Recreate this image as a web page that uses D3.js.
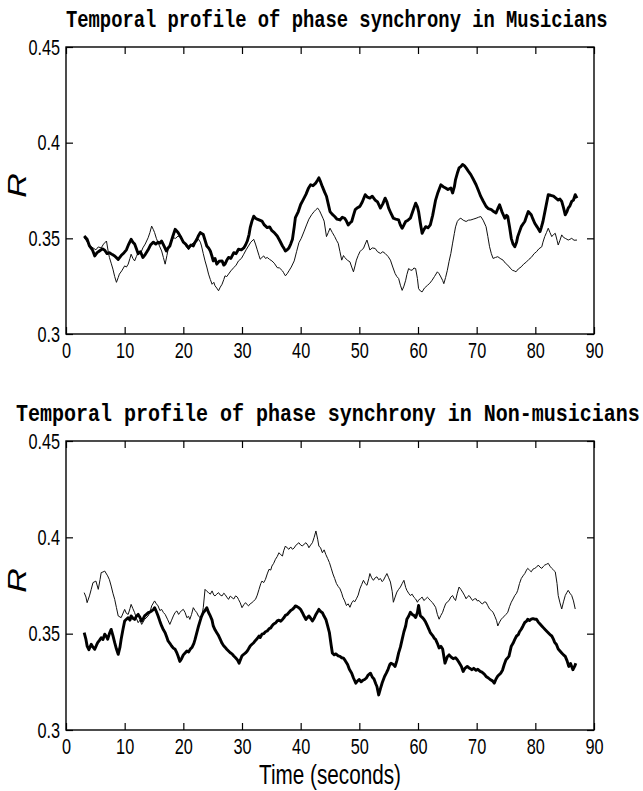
<!DOCTYPE html>
<html>
<head>
<meta charset="utf-8">
<script src="https://cdn.jsdelivr.net/npm/d3@7"></script>
<style>
  body { margin: 0; background: #fff; }
  svg { display: block; }
</style>
</head>
<body>
<svg id="chart"></svg>
<script>
// tick values / labels
const xTicks = [0, 10, 20, 30, 40, 50, 60, 70, 80, 90];
const yTicks = [0.3, 0.35, 0.4, 0.45];
const yTickLabels = ['0.3', '0.35', '0.4', '0.45'];
const titleMus = 'Temporal profile of phase synchrony in Musicians';
const titleNon = 'Temporal profile of phase synchrony in Non-musicians';
const xLabel = 'Time (seconds)';
const yLabel = 'R';

// Musicians, thick trace [time s, R]
const musThick = [[3.1,.3512],[3.6,.3495],[4.0,.3460],[4.5,.3440],[4.9,.3408],[5.3,.3425],[5.7,.3434],[6.2,.3445],[6.6,.3438],[7.0,.3420],[7.4,.3425],[7.9,.3415],[8.3,.3408],[8.9,.3390],[9.4,.3410],[9.9,.3425],[10.3,.3440],[10.7,.3470],[11.1,.3495],[11.4,.3480],[11.7,.3470],[12.0,.3445],[12.3,.3420],[12.7,.3430],[13.1,.3400],[13.5,.3415],[14.0,.3440],[14.4,.3465],[14.9,.3480],[15.3,.3470],[15.7,.3480],[16.0,.3475],[16.3,.3486],[16.7,.3460],[17.1,.3434],[17.4,.3450],[17.7,.3460],[18.2,.3510],[18.6,.3547],[19.1,.3530],[19.5,.3510],[20.0,.3480],[20.4,.3470],[20.9,.3450],[21.3,.3465],[21.7,.3460],[22.0,.3480],[22.3,.3495],[22.6,.3515],[22.9,.3530],[23.4,.3520],[23.7,.3490],[24.0,.3460],[24.3,.3450],[24.6,.3434],[24.9,.3405],[25.1,.3382],[25.4,.3395],[25.7,.3365],[26.1,.3380],[26.6,.3382],[26.9,.3360],[27.1,.3365],[27.4,.3385],[27.7,.3400],[28.1,.3395],[28.6,.3425],[29.0,.3420],[29.4,.3443],[29.9,.3440],[30.3,.3450],[30.6,.3465],[30.9,.3486],[31.2,.3520],[31.4,.3556],[31.7,.3590],[32.0,.3616],[32.3,.3605],[32.6,.3600],[33.0,.3595],[33.4,.3590],[33.8,.3570],[34.3,.3556],[34.7,.3560],[35.1,.3540],[35.5,.3530],[36.0,.3512],[36.4,.3490],[36.9,.3460],[37.2,.3445],[37.4,.3434],[37.7,.3440],[38.0,.3450],[38.3,.3470],[38.6,.3495],[38.9,.3560],[39.1,.3608],[39.6,.3640],[40.0,.3677],[40.4,.3700],[40.9,.3730],[41.3,.3760],[41.7,.3780],[42.1,.3775],[42.6,.3790],[42.9,.3805],[43.1,.3816],[43.4,.3795],[43.7,.3770],[44.1,.3740],[44.4,.3720],[44.7,.3680],[45.0,.3640],[45.4,.3625],[45.8,.3614],[46.2,.3600],[46.7,.3596],[47.1,.3610],[47.5,.3605],[47.8,.3590],[48.1,.3570],[48.4,.3580],[48.7,.3588],[49.0,.3620],[49.3,.3650],[49.7,.3660],[50.1,.3667],[50.5,.3690],[51.0,.3728],[51.4,.3715],[51.8,.3710],[52.2,.3720],[52.7,.3700],[53.1,.3690],[53.6,.3658],[54.0,.3680],[54.4,.3710],[54.7,.3690],[55.0,.3658],[55.4,.3630],[55.8,.3605],[56.2,.3600],[56.7,.3596],[57.0,.3570],[57.3,.3553],[57.6,.3570],[57.9,.3588],[58.3,.3595],[58.7,.3605],[59.1,.3640],[59.6,.3684],[59.9,.3665],[60.1,.3640],[60.4,.3580],[60.7,.3526],[61.0,.3545],[61.3,.3561],[61.7,.3555],[62.1,.3570],[62.5,.3620],[63.0,.3700],[63.4,.3740],[63.9,.3780],[64.3,.3770],[64.7,.3763],[65.1,.3755],[65.6,.3763],[65.9,.3737],[66.2,.3770],[66.4,.3807],[66.7,.3840],[67.0,.3868],[67.3,.3875],[67.6,.3886],[67.9,.3880],[68.2,.3868],[68.6,.3850],[69.0,.3833],[69.4,.3810],[69.9,.3780],[70.3,.3750],[70.7,.3719],[71.1,.3695],[71.6,.3667],[72.0,.3655],[72.5,.3650],[72.9,.3640],[73.3,.3632],[73.6,.3655],[73.9,.3675],[74.3,.3640],[74.8,.3605],[75.1,.3620],[75.3,.3614],[75.6,.3560],[75.9,.3500],[76.2,.3470],[76.5,.3456],[76.8,.3480],[77.0,.3509],[77.3,.3535],[77.6,.3561],[77.9,.3575],[78.2,.3588],[78.5,.3615],[78.8,.3640],[79.1,.3630],[79.3,.3623],[79.6,.3600],[79.9,.3579],[80.3,.3560],[80.8,.3535],[81.0,.3555],[81.3,.3588],[81.7,.3650],[82.2,.3728],[82.6,.3725],[83.1,.3720],[83.5,.3710],[83.9,.3700],[84.2,.3705],[84.5,.3693],[84.8,.3660],[85.1,.3623],[85.4,.3640],[85.6,.3658],[85.9,.3670],[86.2,.3693],[86.5,.3700],[86.8,.3728],[87.1,.3710]];

// Musicians, thin trace
const musThin = [[3.1,.3503],[3.4,.3490],[3.7,.3477],[4.1,.3460],[4.6,.3450],[5.1,.3440],[5.5,.3455],[6.0,.3450],[6.4,.3470],[6.9,.3486],[7.2,.3430],[7.4,.3400],[7.7,.3370],[8.0,.3339],[8.3,.3300],[8.6,.3270],[8.9,.3295],[9.1,.3313],[9.5,.3330],[10.0,.3356],[10.3,.3350],[10.6,.3365],[10.9,.3395],[11.1,.3417],[11.4,.3395],[11.7,.3382],[12.0,.3405],[12.3,.3425],[12.7,.3420],[13.1,.3450],[13.5,.3470],[14.0,.3503],[14.3,.3530],[14.6,.3564],[14.9,.3545],[15.1,.3530],[15.4,.3500],[15.7,.3477],[16.0,.3455],[16.3,.3434],[16.6,.3400],[16.9,.3365],[17.2,.3410],[17.4,.3440],[17.9,.3480],[18.3,.3503],[18.7,.3500],[19.1,.3512],[19.5,.3505],[20.0,.3486],[20.4,.3460],[20.9,.3440],[21.3,.3465],[21.7,.3477],[22.2,.3480],[22.6,.3495],[22.9,.3480],[23.1,.3460],[23.4,.3420],[23.7,.3382],[24.0,.3350],[24.3,.3313],[24.6,.3285],[24.9,.3260],[25.2,.3270],[25.4,.3252],[25.7,.3240],[26.0,.3226],[26.3,.3245],[26.6,.3260],[26.9,.3285],[27.1,.3304],[27.4,.3300],[27.7,.3313],[28.1,.3330],[28.6,.3347],[29.0,.3360],[29.4,.3382],[29.9,.3395],[30.3,.3417],[30.7,.3440],[31.1,.3460],[31.5,.3480],[32.0,.3495],[32.3,.3470],[32.6,.3440],[32.9,.3410],[33.1,.3391],[33.4,.3400],[33.7,.3408],[34.0,.3395],[34.3,.3400],[34.7,.3390],[35.1,.3382],[35.5,.3370],[36.0,.3347],[36.4,.3345],[36.9,.3330],[37.1,.3320],[37.4,.3304],[37.7,.3315],[38.0,.3330],[38.4,.3350],[38.9,.3382],[39.3,.3430],[39.7,.3477],[40.1,.3500],[40.6,.3538],[41.0,.3570],[41.4,.3600],[41.9,.3625],[42.3,.3640],[42.6,.3650],[42.9,.3658],[43.2,.3645],[43.4,.3632],[43.8,.3605],[44.0,.3590],[44.4,.3509],[44.7,.3530],[45.0,.3553],[45.4,.3530],[45.8,.3509],[46.1,.3490],[46.4,.3474],[46.7,.3430],[47.0,.3386],[47.3,.3410],[47.5,.3400],[48.0,.3385],[48.4,.3377],[48.7,.3350],[49.0,.3325],[49.3,.3360],[49.5,.3386],[49.8,.3410],[50.1,.3430],[50.4,.3440],[50.7,.3447],[51.0,.3470],[51.3,.3491],[51.6,.3460],[51.8,.3439],[52.2,.3450],[52.7,.3447],[53.1,.3430],[53.6,.3421],[54.0,.3430],[54.4,.3421],[54.9,.3405],[55.3,.3386],[55.7,.3350],[56.1,.3316],[56.4,.3300],[56.7,.3290],[57.0,.3255],[57.3,.3228],[57.6,.3250],[57.9,.3281],[58.1,.3310],[58.4,.3342],[58.7,.3335],[59.0,.3333],[59.3,.3345],[59.6,.3342],[59.9,.3290],[60.1,.3237],[60.4,.3225],[60.7,.3220],[61.1,.3240],[61.6,.3254],[62.0,.3265],[62.4,.3281],[62.8,.3300],[63.3,.3325],[63.6,.3315],[63.9,.3298],[64.2,.3280],[64.4,.3263],[64.7,.3295],[65.0,.3333],[65.3,.3380],[65.6,.3421],[65.9,.3475],[66.2,.3526],[66.4,.3560],[66.7,.3588],[67.0,.3600],[67.3,.3605],[67.7,.3595],[68.2,.3588],[68.6,.3595],[69.0,.3596],[69.4,.3600],[69.9,.3605],[70.3,.3610],[70.7,.3614],[71.1,.3595],[71.6,.3561],[71.9,.3510],[72.2,.3456],[72.5,.3420],[72.8,.3395],[73.2,.3400],[73.6,.3404],[74.0,.3395],[74.5,.3386],[74.9,.3370],[75.3,.3360],[75.7,.3345],[76.1,.3333],[76.4,.3330],[76.7,.3325],[77.1,.3340],[77.6,.3351],[78.0,.3365],[78.5,.3377],[78.9,.3390],[79.3,.3400],[79.8,.3420],[80.2,.3430],[80.6,.3445],[81.1,.3456],[81.3,.3480],[81.6,.3509],[81.9,.3530],[82.2,.3553],[82.5,.3530],[82.8,.3509],[83.1,.3520],[83.4,.3526],[83.7,.3490],[83.9,.3465],[84.2,.3490],[84.5,.3518],[84.8,.3505],[85.1,.3500],[85.4,.3495],[85.6,.3491],[85.9,.3495],[86.2,.3500],[86.6,.3490],[87.1,.3491]];

// Non-musicians, thick trace
const nonThick = [[3.1,.3505],[3.4,.3470],[3.6,.3436],[3.9,.3417],[4.3,.3445],[4.6,.3430],[4.9,.3419],[5.2,.3440],[5.4,.3453],[5.7,.3465],[6.0,.3479],[6.3,.3470],[6.6,.3497],[6.9,.3485],[7.1,.3471],[7.4,.3500],[7.7,.3522],[8.0,.3490],[8.3,.3453],[8.6,.3420],[8.9,.3393],[9.2,.3430],[9.4,.3471],[9.7,.3520],[10.0,.3566],[10.3,.3575],[10.6,.3583],[10.9,.3570],[11.1,.3592],[11.4,.3580],[11.7,.3574],[12.0,.3590],[12.3,.3600],[12.6,.3585],[12.9,.3566],[13.2,.3580],[13.4,.3592],[13.7,.3600],[14.0,.3609],[14.3,.3612],[14.6,.3618],[14.9,.3625],[15.1,.3635],[15.4,.3615],[15.7,.3592],[16.0,.3565],[16.3,.3540],[16.6,.3520],[16.9,.3505],[17.2,.3480],[17.4,.3462],[17.7,.3450],[18.0,.3436],[18.3,.3425],[18.6,.3419],[18.9,.3400],[19.1,.3384],[19.4,.3356],[19.7,.3370],[20.0,.3390],[20.3,.3400],[20.6,.3410],[20.9,.3405],[21.2,.3420],[21.5,.3430],[21.8,.3450],[22.0,.3470],[22.3,.3505],[22.6,.3540],[22.9,.3570],[23.1,.3590],[23.4,.3609],[23.7,.3620],[24.0,.3635],[24.3,.3610],[24.6,.3592],[24.9,.3570],[25.1,.3540],[25.4,.3520],[25.7,.3505],[26.0,.3490],[26.3,.3470],[26.6,.3450],[26.9,.3436],[27.1,.3430],[27.4,.3419],[27.7,.3410],[28.0,.3401],[28.3,.3395],[28.6,.3384],[28.9,.3375],[29.2,.3365],[29.5,.3347],[29.8,.3370],[30.0,.3385],[30.3,.3393],[30.6,.3400],[30.9,.3410],[31.1,.3420],[31.4,.3436],[31.7,.3445],[32.0,.3453],[32.3,.3465],[32.6,.3475],[32.9,.3488],[33.1,.3480],[33.4,.3497],[33.7,.3500],[34.0,.3510],[34.3,.3514],[34.6,.3525],[34.9,.3530],[35.1,.3540],[35.4,.3550],[35.7,.3555],[36.0,.3566],[36.3,.3570],[36.6,.3565],[36.9,.3574],[37.2,.3585],[37.4,.3595],[37.7,.3600],[38.0,.3610],[38.3,.3620],[38.6,.3626],[38.9,.3635],[39.1,.3644],[39.4,.3640],[39.7,.3635],[40.0,.3625],[40.3,.3609],[40.6,.3590],[40.9,.3574],[41.2,.3585],[41.4,.3592],[41.7,.3580],[42.0,.3566],[42.3,.3580],[42.6,.3600],[42.9,.3615],[43.1,.3626],[43.4,.3615],[43.7,.3609],[44.0,.3590],[44.3,.3574],[44.6,.3540],[44.9,.3505],[45.2,.3440],[45.4,.3400],[45.7,.3390],[46.0,.3395],[46.4,.3385],[46.7,.3382],[47.0,.3375],[47.3,.3373],[47.6,.3360],[48.0,.3340],[48.3,.3315],[48.7,.3295],[49.0,.3270],[49.4,.3243],[49.7,.3255],[50.0,.3262],[50.3,.3250],[50.6,.3258],[50.9,.3262],[51.2,.3270],[51.5,.3285],[51.9,.3295],[52.2,.3275],[52.5,.3265],[52.8,.3240],[53.0,.3226],[53.3,.3182],[53.6,.3215],[53.9,.3245],[54.3,.3278],[54.6,.3295],[54.9,.3315],[55.2,.3340],[55.4,.3347],[55.8,.3340],[56.1,.3330],[56.4,.3360],[56.7,.3400],[57.0,.3430],[57.3,.3470],[57.6,.3510],[57.9,.3540],[58.1,.3575],[58.4,.3590],[58.7,.3611],[59.0,.3600],[59.3,.3595],[59.6,.3584],[59.9,.3610],[60.1,.3646],[60.4,.3593],[60.7,.3585],[61.0,.3575],[61.3,.3560],[61.6,.3540],[61.9,.3520],[62.1,.3505],[62.5,.3490],[62.8,.3475],[63.0,.3470],[63.3,.3450],[63.6,.3426],[63.9,.3434],[64.2,.3420],[64.6,.3347],[65.0,.3380],[65.3,.3390],[65.6,.3380],[66.0,.3370],[66.4,.3375],[66.7,.3365],[67.0,.3350],[67.4,.3330],[67.7,.3304],[68.0,.3320],[68.4,.3330],[68.8,.3320],[69.2,.3313],[69.5,.3320],[69.9,.3310],[70.2,.3315],[70.6,.3304],[70.9,.3300],[71.3,.3290],[71.6,.3278],[72.0,.3270],[72.3,.3262],[72.7,.3255],[73.0,.3243],[73.3,.3265],[73.6,.3280],[74.1,.3295],[74.4,.3310],[74.7,.3340],[75.0,.3365],[75.5,.3382],[75.9,.3435],[76.2,.3450],[76.5,.3470],[76.8,.3488],[77.1,.3495],[77.3,.3510],[77.6,.3523],[77.9,.3540],[78.2,.3558],[78.5,.3565],[78.7,.3575],[79.0,.3568],[79.3,.3575],[79.6,.3578],[79.9,.3575],[80.2,.3575],[80.5,.3560],[80.8,.3550],[81.1,.3540],[81.4,.3530],[81.7,.3520],[81.9,.3514],[82.2,.3505],[82.5,.3495],[82.8,.3488],[83.1,.3470],[83.3,.3455],[83.6,.3444],[83.9,.3420],[84.2,.3410],[84.5,.3400],[84.8,.3390],[85.1,.3382],[85.4,.3360],[85.7,.3330],[86.0,.3345],[86.4,.3313],[86.7,.3330],[86.9,.3347]];

// Non-musicians, thin trace
const nonThin = [[3.1,.3713],[3.4,.3690],[3.6,.3661],[4.0,.3696],[4.3,.3730],[4.6,.3765],[5.1,.3773],[5.5,.3730],[5.8,.3780],[6.0,.3817],[6.3,.3820],[6.6,.3825],[7.1,.3800],[7.4,.3780],[7.7,.3747],[8.0,.3710],[8.3,.3678],[8.6,.3635],[8.9,.3592],[9.4,.3583],[10.0,.3626],[10.3,.3605],[10.6,.3600],[10.9,.3630],[11.1,.3652],[11.4,.3630],[11.7,.3609],[12.0,.3580],[12.3,.3557],[12.6,.3570],[12.9,.3548],[13.4,.3574],[14.0,.3592],[14.3,.3610],[14.6,.3644],[15.1,.3670],[15.4,.3655],[15.7,.3644],[16.0,.3620],[16.3,.3626],[16.6,.3610],[16.9,.3600],[17.3,.3575],[17.7,.3548],[18.0,.3570],[18.3,.3592],[18.6,.3610],[18.9,.3618],[19.2,.3600],[19.4,.3609],[19.7,.3620],[20.0,.3626],[20.3,.3610],[20.6,.3583],[20.9,.3590],[21.1,.3574],[21.4,.3600],[21.7,.3635],[22.0,.3620],[22.3,.3609],[22.6,.3590],[22.9,.3583],[23.2,.3600],[23.4,.3635],[23.7,.3730],[24.0,.3720],[24.3,.3713],[24.6,.3705],[24.9,.3722],[25.2,.3700],[25.4,.3696],[25.7,.3705],[26.0,.3713],[26.3,.3700],[26.6,.3696],[26.9,.3710],[27.1,.3704],[27.4,.3690],[27.7,.3678],[28.0,.3695],[28.3,.3687],[28.6,.3680],[28.9,.3696],[29.2,.3690],[29.4,.3678],[29.7,.3660],[30.0,.3635],[30.3,.3650],[30.6,.3661],[30.9,.3650],[31.1,.3644],[31.4,.3655],[31.7,.3661],[32.0,.3670],[32.3,.3678],[32.6,.3700],[32.9,.3730],[33.2,.3760],[33.4,.3773],[33.7,.3765],[34.0,.3782],[34.3,.3810],[34.6,.3834],[34.9,.3830],[35.1,.3851],[35.4,.3865],[35.7,.3886],[36.0,.3900],[36.3,.3920],[36.6,.3910],[36.9,.3903],[37.1,.3930],[37.4,.3955],[37.7,.3945],[38.0,.3938],[38.3,.3950],[38.6,.3938],[38.9,.3945],[39.1,.3955],[39.4,.3965],[39.7,.3972],[40.0,.3960],[40.3,.3955],[40.6,.3965],[40.9,.3972],[41.2,.3960],[41.4,.3946],[41.7,.3960],[42.0,.3972],[42.3,.4000],[42.6,.4033],[42.9,.3990],[43.1,.3955],[43.4,.3945],[43.7,.3920],[44.0,.3935],[44.3,.3910],[44.6,.3890],[44.9,.3869],[45.2,.3840],[45.5,.3810],[45.8,.3786],[46.1,.3760],[46.4,.3745],[46.7,.3733],[47.0,.3710],[47.2,.3689],[47.5,.3670],[47.8,.3646],[48.1,.3655],[48.4,.3637],[48.7,.3660],[49.0,.3672],[49.2,.3665],[49.5,.3681],[49.8,.3700],[50.1,.3733],[50.4,.3755],[50.7,.3777],[51.0,.3760],[51.3,.3751],[51.6,.3785],[51.8,.3812],[52.1,.3790],[52.4,.3777],[52.7,.3790],[53.0,.3795],[53.3,.3780],[53.6,.3786],[53.9,.3770],[54.1,.3777],[54.4,.3795],[54.7,.3812],[55.0,.3790],[55.3,.3768],[55.6,.3720],[55.8,.3663],[56.1,.3690],[56.4,.3716],[56.7,.3730],[57.0,.3742],[57.3,.3760],[57.6,.3777],[57.9,.3740],[58.1,.3725],[58.4,.3710],[58.7,.3698],[59.0,.3705],[59.3,.3689],[59.6,.3680],[59.9,.3663],[60.1,.3675],[60.4,.3681],[60.7,.3690],[61.0,.3672],[61.3,.3680],[61.6,.3689],[61.9,.3680],[62.1,.3672],[62.5,.3660],[63.0,.3637],[63.3,.3600],[63.6,.3575],[63.9,.3595],[64.2,.3611],[64.4,.3630],[64.7,.3654],[65.0,.3665],[65.3,.3672],[65.6,.3690],[65.9,.3698],[66.1,.3685],[66.4,.3672],[66.7,.3710],[67.0,.3742],[67.3,.3730],[67.6,.3716],[67.9,.3700],[68.2,.3681],[68.4,.3690],[68.7,.3698],[69.0,.3685],[69.3,.3672],[69.6,.3680],[69.9,.3681],[70.1,.3670],[70.4,.3672],[70.7,.3660],[71.0,.3654],[71.3,.3665],[71.6,.3663],[71.9,.3645],[72.2,.3628],[72.5,.3620],[72.8,.3611],[73.1,.3590],[73.4,.3567],[73.6,.3540],[73.9,.3560],[74.2,.3575],[74.5,.3585],[74.8,.3593],[75.0,.3600],[75.3,.3611],[75.6,.3640],[75.9,.3663],[76.2,.3680],[76.5,.3698],[76.8,.3710],[77.0,.3725],[77.3,.3760],[77.6,.3786],[77.9,.3800],[78.2,.3812],[78.5,.3830],[78.7,.3839],[79.0,.3830],[79.3,.3821],[79.6,.3835],[79.9,.3839],[80.2,.3845],[80.5,.3856],[80.8,.3845],[81.1,.3839],[81.4,.3850],[81.6,.3856],[81.9,.3860],[82.2,.3865],[82.5,.3850],[82.8,.3839],[83.1,.3830],[83.4,.3821],[83.7,.3760],[83.9,.3698],[84.2,.3660],[84.5,.3628],[84.8,.3665],[85.1,.3698],[85.4,.3715],[85.6,.3725],[85.9,.3710],[86.2,.3698],[86.5,.3670],[86.8,.3628]];

const W = 643, H = 791;
const svg = d3.select('#chart').attr('width', W).attr('height', H);
svg.append('rect').attr('width', W).attr('height', H).attr('fill', '#fff');

const sans = '"Liberation Sans", Arial, Helvetica, sans-serif';
const mono = '"Courier New", Courier, "Nimbus Mono PS", "Liberation Mono", monospace';
const squeeze = 0.74;   // the figure's Helvetica text is horizontally compressed
const tickLen = 7;
const titleSize = 24;

const panels = [
  { title: titleMus, thick: musThick, thin: musThin, top: 47, bottom: 334, titleY: 27, titleX0: 66, titleW: 542 },
  { title: titleNon, thick: nonThick, thin: nonThin, top: 441, bottom: 730, titleY: 421, titleX0: 16, titleW: 624 }
];

const x = d3.scaleLinear().domain([0, 90]).range([66, 594]);

panels.forEach((p, pi) => {
  const y = d3.scaleLinear().domain([0.3, 0.45]).range([p.bottom, p.top]);
  const g = svg.append('g');

  // title: monospace glyphs are 0.6em wide, squeeze to the measured width
  const natural = p.title.length * 0.6 * titleSize;
  g.append('text')
    .attr('transform', `translate(${p.titleX0},${p.titleY}) scale(${p.titleW / natural},1)`)
    .style('font-family', mono).style('font-weight', 'bold').style('font-size', titleSize + 'px')
    .text(p.title);

  // traces
  const line = d3.line().x(d => x(d[0])).y(d => y(d[1]));
  g.append('path').datum(p.thin)
    .attr('fill', 'none').attr('stroke', '#111').attr('stroke-width', 1)
    .attr('stroke-linejoin', 'round').attr('d', line);
  g.append('path').datum(p.thick)
    .attr('fill', 'none').attr('stroke', '#000').attr('stroke-width', 2.9)
    .attr('stroke-linejoin', 'round').attr('d', line);

  // axes, ticks pointing inward on all four sides
  const ax = (sel) => { sel.select('.domain').remove(); sel.selectAll('line').attr('stroke', '#000').attr('stroke-width', 1.2); };

  g.append('g').attr('transform', `translate(0,${p.bottom})`)
    .call(d3.axisBottom(x).tickValues(xTicks).tickSizeInner(-tickLen).tickSizeOuter(0).tickPadding(8))
    .call(ax)
    .selectAll('text')
    .style('font-family', sans).style('font-size', '22px').attr('fill', '#000')
    .attr('transform', `scale(${squeeze},1)`);

  g.append('g').attr('transform', `translate(0,${p.top})`)
    .call(d3.axisTop(x).tickValues(xTicks).tickSizeInner(-tickLen).tickSizeOuter(0).tickFormat(''))
    .call(ax);

  g.append('g').attr('transform', `translate(66,0)`)
    .call(d3.axisLeft(y).tickValues(yTicks).tickSizeInner(-tickLen).tickSizeOuter(0).tickPadding(8)
      .tickFormat((d, i) => yTickLabels[i]))
    .call(ax)
    .selectAll('text')
    .style('font-family', sans).style('font-size', '22px').attr('fill', '#000')
    .attr('transform', `scale(${squeeze},1)`);

  g.append('g').attr('transform', `translate(594,0)`)
    .call(d3.axisRight(y).tickValues(yTicks).tickSizeInner(-tickLen).tickSizeOuter(0).tickFormat(''))
    .call(ax);

  // frame
  g.append('rect')
    .attr('x', 66).attr('y', p.top).attr('width', 594 - 66).attr('height', p.bottom - p.top)
    .attr('fill', 'none').attr('stroke', '#000').attr('stroke-width', 1.4);

  // y label
  g.append('text')
    .attr('transform', `translate(26,${(p.top + p.bottom) / 2 - 5}) scale(${squeeze},1) rotate(-90)`)
    .attr('text-anchor', 'middle')
    .style('font-family', sans).style('font-style', 'italic').style('font-size', '34px')
    .text(yLabel);

  if (pi === 1) {
    g.append('text')
      .attr('transform', `translate(${(66 + 594) / 2},784) scale(${squeeze},1)`)
      .attr('text-anchor', 'middle')
      .style('font-family', sans).style('font-size', '28px')
      .text(xLabel);
  }
});
</script>
</body>
</html>
